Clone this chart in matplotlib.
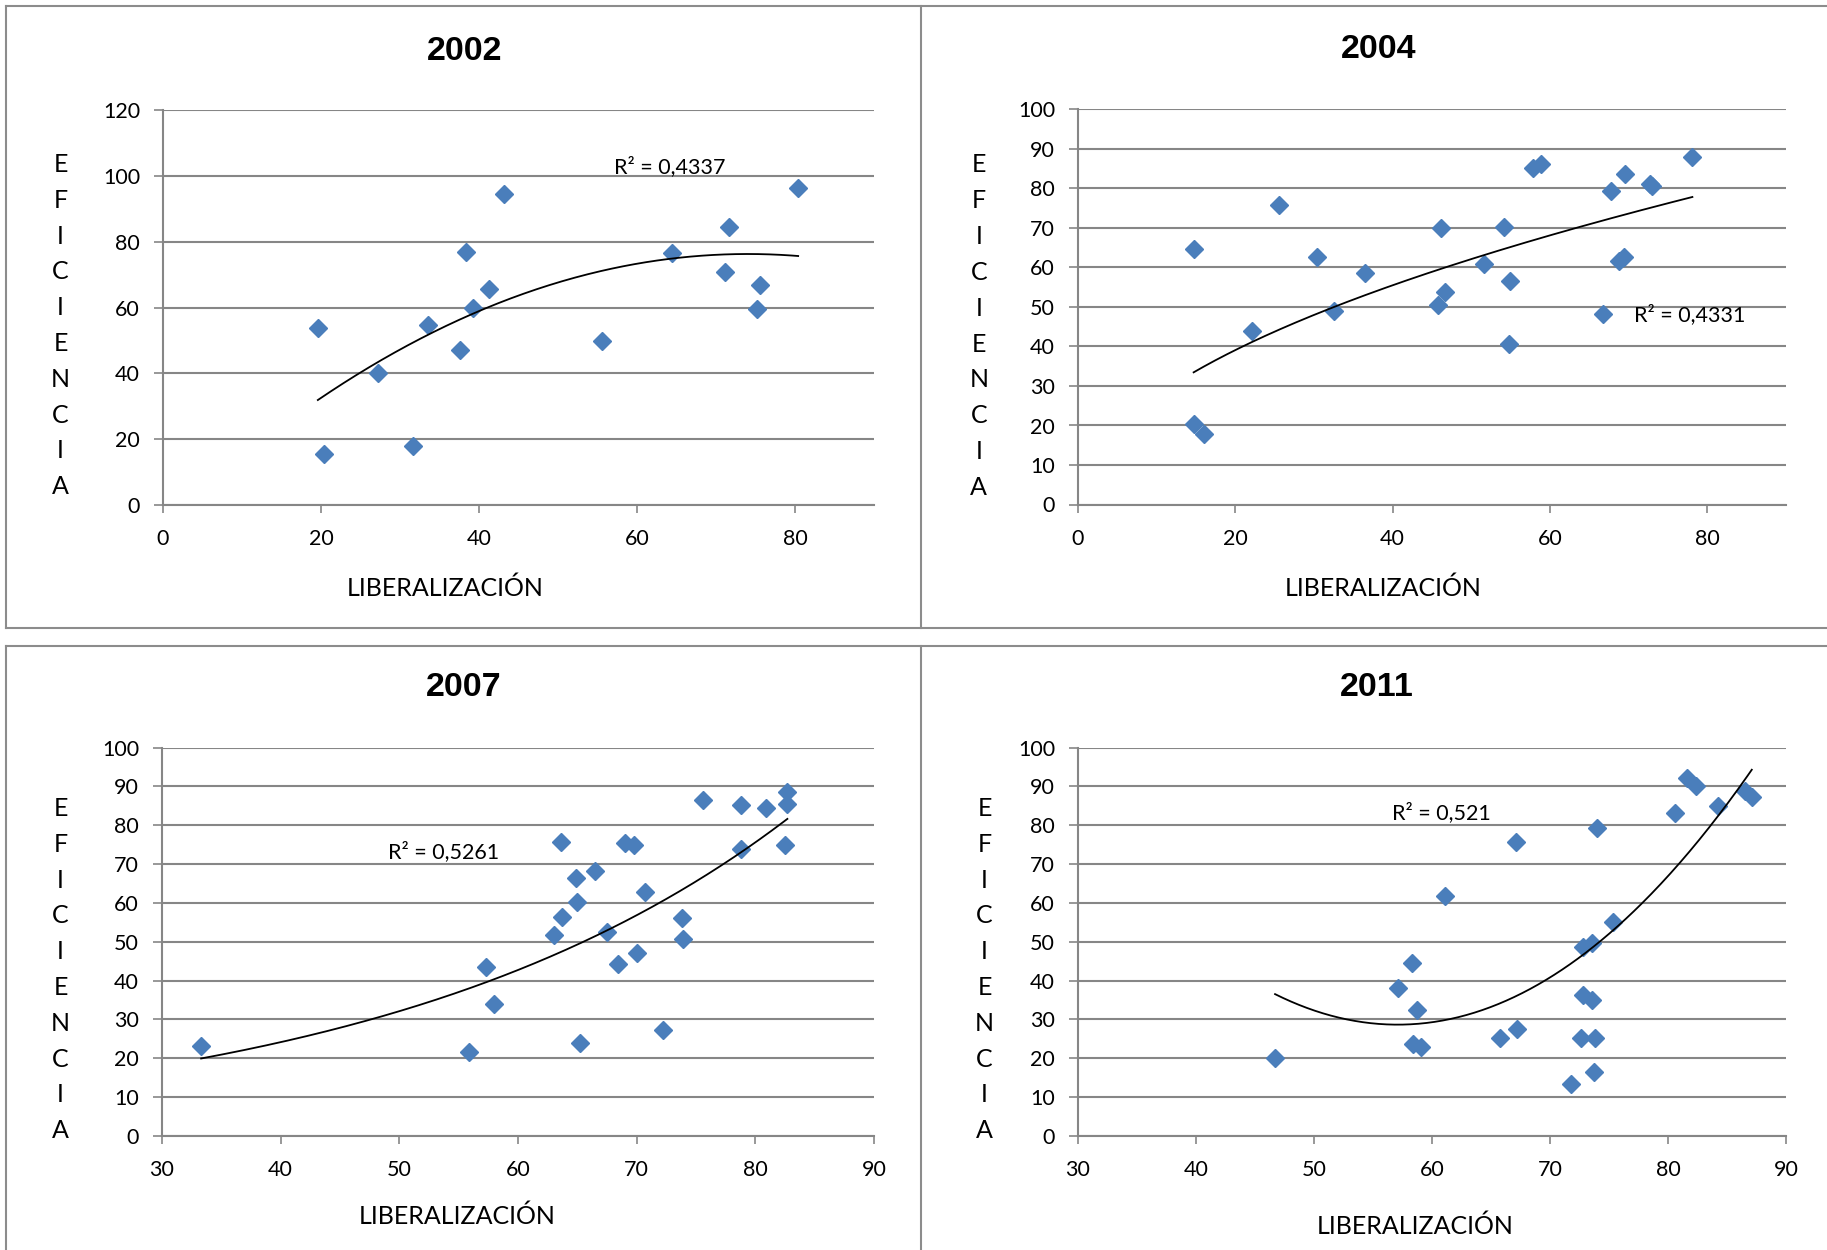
import numpy as np
import matplotlib
matplotlib.use("Agg")
import matplotlib.pyplot as plt
from matplotlib.lines import Line2D

W, H = 1827, 1250
plt.rcParams['font.family'] = ['Lato', 'DejaVu Sans']

# ---------------- data ----------------
years = ["2002", "2004", "2007", "2011"]

lib_2002 = [19.6, 20.4, 27.2, 31.6, 33.6, 37.6, 38.4, 39.3, 41.3, 43.2, 55.6,
            64.4, 71.2, 71.6, 75.2, 75.6, 80.4]
efi_2002 = [53.8, 15.6, 40.0, 18.0, 54.6, 47.1, 76.9, 59.7, 65.6, 94.6, 49.7,
            76.5, 70.7, 84.6, 59.4, 66.9, 96.3]

lib_2004 = [14.7, 14.7, 16.0, 22.1, 25.6, 30.4, 32.6, 36.5, 45.7, 46.7, 46.1,
            51.6, 54.2, 54.9, 54.8, 57.8, 58.9, 66.8, 67.7, 68.8, 69.4, 69.5,
            72.7, 73.0, 78.1]
efi_2004 = [64.6, 20.3, 17.8, 44.0, 75.8, 62.6, 48.9, 58.7, 50.6, 53.7, 70.0,
            60.9, 70.2, 56.6, 40.7, 85.1, 86.2, 48.2, 79.3, 61.6, 62.6, 83.7,
            81.2, 80.7, 87.9]

lib_2007 = [33.3, 55.9, 57.3, 58.0, 63.0, 63.6, 63.7, 64.9, 65.0, 65.2, 66.5,
            67.5, 68.4, 69.0, 69.8, 70.0, 70.7, 72.2, 73.8, 73.9, 75.6, 78.8,
            78.8, 80.9, 82.7, 82.7, 82.5]
efi_2007 = [23.1, 21.7, 43.5, 33.9, 51.7, 75.6, 56.3, 66.5, 60.2, 24.0, 68.2,
            52.5, 44.2, 75.3, 74.8, 47.1, 62.7, 27.4, 56.1, 50.8, 86.4, 85.3,
            74.0, 84.3, 88.6, 85.5, 74.9]

lib_2011 = [46.7, 57.1, 58.3, 58.7, 58.4, 59.1, 61.1, 65.8, 67.2, 67.1, 71.8,
            72.6, 72.8, 72.8, 73.6, 73.6, 73.8, 73.7, 74.0, 75.3, 80.6, 81.6,
            82.4, 84.2, 86.5, 87.1]
efi_2011 = [20.0, 38.0, 44.6, 32.4, 23.8, 23.0, 61.9, 25.1, 27.6, 75.7, 13.3,
            25.1, 48.6, 36.3, 49.7, 34.9, 25.1, 16.6, 79.4, 55.1, 83.1, 92.2,
            90.1, 84.9, 88.8, 87.3]

trend_types = ["poly2", "power", "exp", "poly2"]
r2_labels = ["R² = 0,4337", "R² = 0,4331", "R² = 0,5261", "R² = 0,521"]
r2_pos = [(64.2, 102.8), (77.7, 48.1), (53.7, 73.1), (60.8, 83.2)]

x_limits = [(0, 90), (0, 90), (30, 90), (30, 90)]
x_ticks = [[0, 20, 40, 60, 80], [0, 20, 40, 60, 80],
           [30, 40, 50, 60, 70, 80, 90], [30, 40, 50, 60, 70, 80, 90]]
y_limits = [(0, 120), (0, 100), (0, 100), (0, 100)]
y_ticks = [list(range(0, 121, 20)), list(range(0, 101, 10)),
           list(range(0, 101, 10)), list(range(0, 101, 10))]

x_label = "LIBERALIZACIÓN"
y_label = "EFICIENCIA"

xs = [lib_2002, lib_2004, lib_2007, lib_2011]
ys = [efi_2002, efi_2004, efi_2007, efi_2011]

# ---------------- layout (pixels) ----------------
axes_px = [(163, 874, 110, 505), (1078, 1786, 109.5, 504.5),
           (162, 874, 747.5, 1136), (1078, 1786, 747.5, 1136)]
title_px = [(464.5, 51), (1378.4, 50), (463.8, 687.5), (1377.3, 687.5)]
xlabel_px = [(445, 588), (1383, 588), (456.8, 1216), (1415.5, 1226.5)]
ylabel_px = [(60.5, 164.5), (978.8, 165), (60.6, 808.5), (984.6, 808.5)]
letter_step = 35.8

GRID = '#868686'
BLUE = '#4a7ebb'

fig = plt.figure(figsize=(W / 100, H / 100), dpi=100)
fig.patch.set_facecolor('white')


def fx(x):
    return x / W


def fy(y):
    return 1 - y / H


for i in range(4):
    x0, x1, yt, yb = axes_px[i]
    ax = fig.add_axes([fx(x0), fy(yb), (x1 - x0) / W, (yb - yt) / H])
    x = np.array(xs[i])
    y = np.array(ys[i])

    ax.plot(x, y, linestyle='none', marker='D', markersize=9.2,
            markerfacecolor=BLUE, markeredgecolor=BLUE, zorder=3)

    xx = np.linspace(x.min(), x.max(), 300)
    if trend_types[i] == "poly2":
        c = np.polyfit(x, y, 2)
        yy = np.polyval(c, xx)
    elif trend_types[i] == "power":
        c = np.polyfit(np.log(x), np.log(y), 1)
        yy = np.exp(np.polyval(c, np.log(xx)))
    else:
        c = np.polyfit(x, np.log(y), 1)
        yy = np.exp(np.polyval(c, xx))
    ax.plot(xx, yy, color='black', lw=1.3, zorder=4)

    ax.text(r2_pos[i][0], r2_pos[i][1], r2_labels[i], fontsize=15.5,
            ha='center', va='center', color='black', zorder=5)

    ax.set_xlim(*x_limits[i])
    ax.set_ylim(*y_limits[i])
    ax.set_xticks(x_ticks[i])
    ax.set_yticks(y_ticks[i])
    ax.set_yticklabels([str(t) for t in y_ticks[i]])
    ax.set_xticklabels([str(t) for t in x_ticks[i]])

    for s in ['top', 'right']:
        ax.spines[s].set_visible(False)
    for s in ['left', 'bottom']:
        ax.spines[s].set_color(GRID)
        ax.spines[s].set_linewidth(1.5)
    ax.yaxis.grid(True, color=GRID, lw=1.5)
    ax.set_axisbelow(True)
    ax.tick_params(axis='both', direction='out', color=GRID, width=1.2,
                   labelsize=15.5, labelcolor='black')
    ax.tick_params(axis='y', length=6.5, pad=10)
    ax.tick_params(axis='x', length=6, pad=11.5)
    ax.set_facecolor('none')

    # titles and axis labels
    fig.text(fx(title_px[i][0]), fy(title_px[i][1]), years[i],
             fontsize=24.5, fontweight='bold', family='Liberation Sans',
             ha='center', va='center')
    fig.text(fx(xlabel_px[i][0]), fy(xlabel_px[i][1]), x_label,
             fontsize=18, ha='center', va='center')
    lx, ly = ylabel_px[i]
    for k, ch in enumerate(y_label):
        fig.text(fx(lx), fy(ly + k * letter_step), ch, fontsize=18,
                 ha='center', va='center')

# panel borders
BORDER = '#8c8c8c'
lw_b = 1.5
segs = [
    ((6, 6), (W, 6)),          # top edge of upper row
    ((6, 6), (6, 628)),        # left edge upper-left
    ((6, 628), (W, 628)),      # bottom edge upper row
    ((921.5, 6), (921.5, 628)),
    ((6, 646), (W, 646)),      # top edge lower row
    ((6, 646), (6, H)),
    ((921.5, 646), (921.5, H)),
]
for (a, b) in segs:
    fig.add_artist(Line2D([fx(a[0]), fx(b[0])], [fy(a[1]), fy(b[1])],
                          color=BORDER, lw=lw_b, transform=fig.transFigure))

fig.savefig('out.png', dpi=100)
